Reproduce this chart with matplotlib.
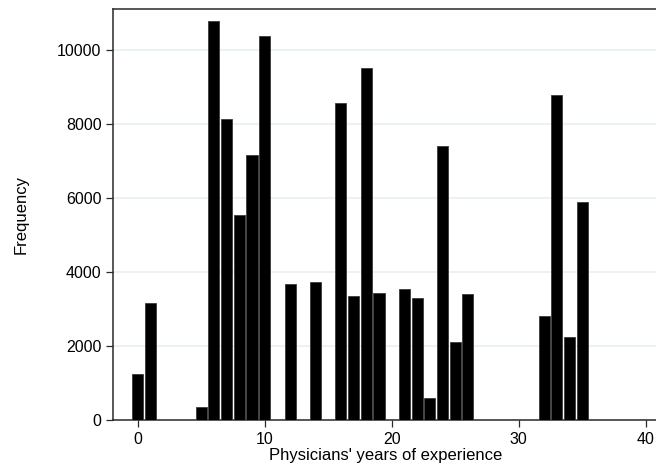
import matplotlib
matplotlib.use("Agg")
import matplotlib.pyplot as plt

years = [0, 1, 5, 6, 7, 8, 9, 10, 12, 14, 16, 17, 18, 19, 21, 22, 23, 24, 25, 26, 32, 33, 34, 35]
freq = [1245, 3165, 340, 10780, 8125, 5535, 7165, 10360, 3680, 3725, 8570, 3350, 9505, 3420,
        3530, 3285, 585, 7405, 2105, 3395, 2815, 8775, 2250, 5895]
xticks = [0, 10, 20, 30, 40]
yticks = [0, 2000, 4000, 6000, 8000, 10000]

plt.rcParams['font.family'] = ['Liberation Sans', 'DejaVu Sans']

fig = plt.figure(figsize=(6.56, 4.68), dpi=100)
W, H = 656, 468
left, right, bottom, top = 113.3, 657, 420, 9
ax = fig.add_axes([left / W, (H - bottom) / H, (right - left) / W, (bottom - top) / H])

ax.bar(years, freq, width=0.88, color='black', edgecolor='#3a3a3a', linewidth=0.6, zorder=3)

ax.set_xlim(-1.92, (right - 137.7) / 12.7)
ax.set_ylim(0, 11100)
ax.set_xticks(xticks)
ax.set_yticks(yticks)
ax.set_xticklabels([str(v) for v in xticks])
ax.set_yticklabels([str(v) for v in yticks])

ax.grid(axis='y', color='#e8f0f2', linewidth=1.2, zorder=0)
ax.set_axisbelow(True)

for s in ['left', 'bottom', 'top']:
    ax.spines[s].set_color('#2a2a2a')
    ax.spines[s].set_linewidth(1.1)
ax.spines['right'].set_visible(False)

ax.tick_params(axis='both', direction='out', length=5, width=0.9, color='#2a2a2a',
               labelsize=11.5, pad=3.5)

ax.set_xlabel("Physicians' years of experience", fontsize=12)
ax.set_ylabel("Frequency", fontsize=12)
ax.xaxis.set_label_coords(0.5, (bottom - 448) / (bottom - top))
ax.xaxis.label.set_va('top')
ax.yaxis.set_label_coords((29 - left) / (right - left), 0.5)

fig.savefig("out.png", dpi=100)
